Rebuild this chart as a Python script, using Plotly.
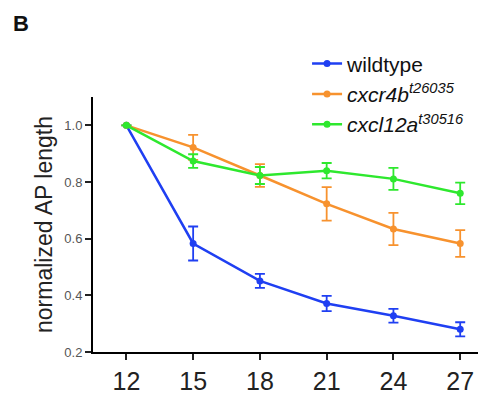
import plotly.graph_objects as go

# hours post fertilization
hpf = [12, 15, 18, 21, 24, 27]

wildtype = [1.0, 0.583, 0.451, 0.371, 0.328, 0.280]
wildtype_err = [0.0, 0.060, 0.025, 0.027, 0.024, 0.025]

cxcr4b = [1.0, 0.922, 0.823, 0.723, 0.634, 0.583]
cxcr4b_err = [0.0, 0.044, 0.040, 0.059, 0.057, 0.047]

cxcl12a = [1.0, 0.874, 0.823, 0.840, 0.811, 0.760]
cxcl12a_err = [0.0, 0.024, 0.030, 0.027, 0.039, 0.038]

series = [
    ("wildtype", wildtype, wildtype_err, "#1f3ff2"),
    ("<i>cxcr4b<sup>t26035</sup></i>", cxcr4b, cxcr4b_err, "#f7922e"),
    ("<i>cxcl12a<sup>t30516</sup></i>", cxcl12a, cxcl12a_err, "#2ee82e"),
]

fig = go.Figure()
for name, vals, err, color in series:
    fig.add_trace(go.Scatter(
        x=hpf, y=vals, name=name, mode="lines+markers",
        line=dict(color=color, width=2.5),
        marker=dict(color=color, size=7),
        error_y=dict(type="data", array=err, color=color, thickness=1.8, width=5),
    ))

# the page body adds ~8px offset, so figure is sized a bit smaller than window
fig.update_layout(
    width=482, height=399,
    margin=dict(l=85, r=12, t=89, b=48),
    paper_bgcolor="white", plot_bgcolor="white",
    font=dict(family="Liberation Sans, Arial, sans-serif", color="#222"),
    showlegend=True,
    legend=dict(
        x=0.556, y=1.21, xanchor="left", yanchor="top",
        font=dict(size=21, color="#111"),
        tracegroupgap=0, itemwidth=30,
        bgcolor="rgba(0,0,0,0)",
    ),
    annotations=[dict(
        text="<b>B</b>", x=-0.213, y=1.345, xref="paper", yref="paper",
        xanchor="left", yanchor="top", showarrow=False,
        font=dict(size=22, color="#111"),
    )],
)

fig.update_xaxes(
    range=[10.5, 27.8], tickvals=hpf, showgrid=False, zeroline=False,
    showline=True, linecolor="black", linewidth=2,
    ticks="outside", ticklen=6, tickwidth=2, tickcolor="#222",
    tickfont=dict(size=25, color="#222"),
)
fig.update_yaxes(
    range=[0.2, 1.1], tickvals=[0.2, 0.4, 0.6, 0.8, 1.0], ticktext=["0.2", "0.4", "0.6", "0.8", "1.0"],
    showgrid=False, zeroline=False,
    showline=True, linecolor="black", linewidth=2,
    ticks="outside", ticklen=6, tickwidth=2, tickcolor="#222",
    tickfont=dict(size=13, color="#555"),
    title=dict(text="normalized AP length", font=dict(size=23, color="#222"), standoff=5),
)

fig.write_html("out.html")
